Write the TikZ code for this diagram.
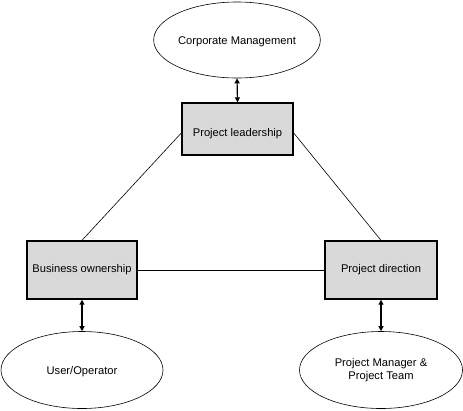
\documentclass[tikz,border=0pt]{standalone}
\usepackage{fontspec}
\setmainfont{Liberation Sans}
\usetikzlibrary{shapes.geometric,arrows.meta}
\newcommand{\lowered}[2]{\raisebox{-#1}[\height][\depth]{#2}}
\begin{document}
\begin{tikzpicture}[x=1bp,y=-1bp,
  every node/.style={font=\fontsize{11.2}{13.5}\selectfont},
  role/.style={draw, line width=1.4pt, fill=black!15, minimum width=111bp, minimum height=52bp, inner sep=0pt},
  party/.style={draw, ellipse, line width=0.6pt, minimum width=164bp, minimum height=76bp, inner sep=0pt, align=center},
  link/.style={line width=0.6pt},
  twoway/.style={line width=1.2pt, {Triangle[length=5bp,width=5bp]}-{Triangle[length=5bp,width=5bp]}}]
\useasboundingbox (0,0) rectangle (463,410);
\node[party] (cm) at (237,40) {\lowered{2bp}{Corporate Management}};
\node[role] (pl) at (237.5,129) {\lowered{5bp}{Project leadership}};
\node[role, minimum width=110bp, minimum height=58bp] (bo) at (82,270) {Business ownership};
\node[role, minimum width=112bp, minimum height=58bp] (pd) at (381,270) {Project direction};
\node[party, minimum width=162bp, minimum height=77bp] (uo) at (82,370) {\lowered{2bp}{User/Operator}};
\node[party, minimum width=163bp, minimum height=77bp] (pm) at (381,370) {Project Manager \&\\Project Team};
\draw[twoway] (cm.south) -- (pl.north);
\draw[twoway] (bo.south) -- (uo.north);
\draw[twoway] (pd.south) -- (pm.north);
\draw[link] ([yshift=-4bp]pl.west) -- (bo.north);
\draw[link] ([yshift=-4bp]pl.east) -- (pd.north);
\draw[link] (bo.east) -- (pd.west);
\end{tikzpicture}
\end{document}
